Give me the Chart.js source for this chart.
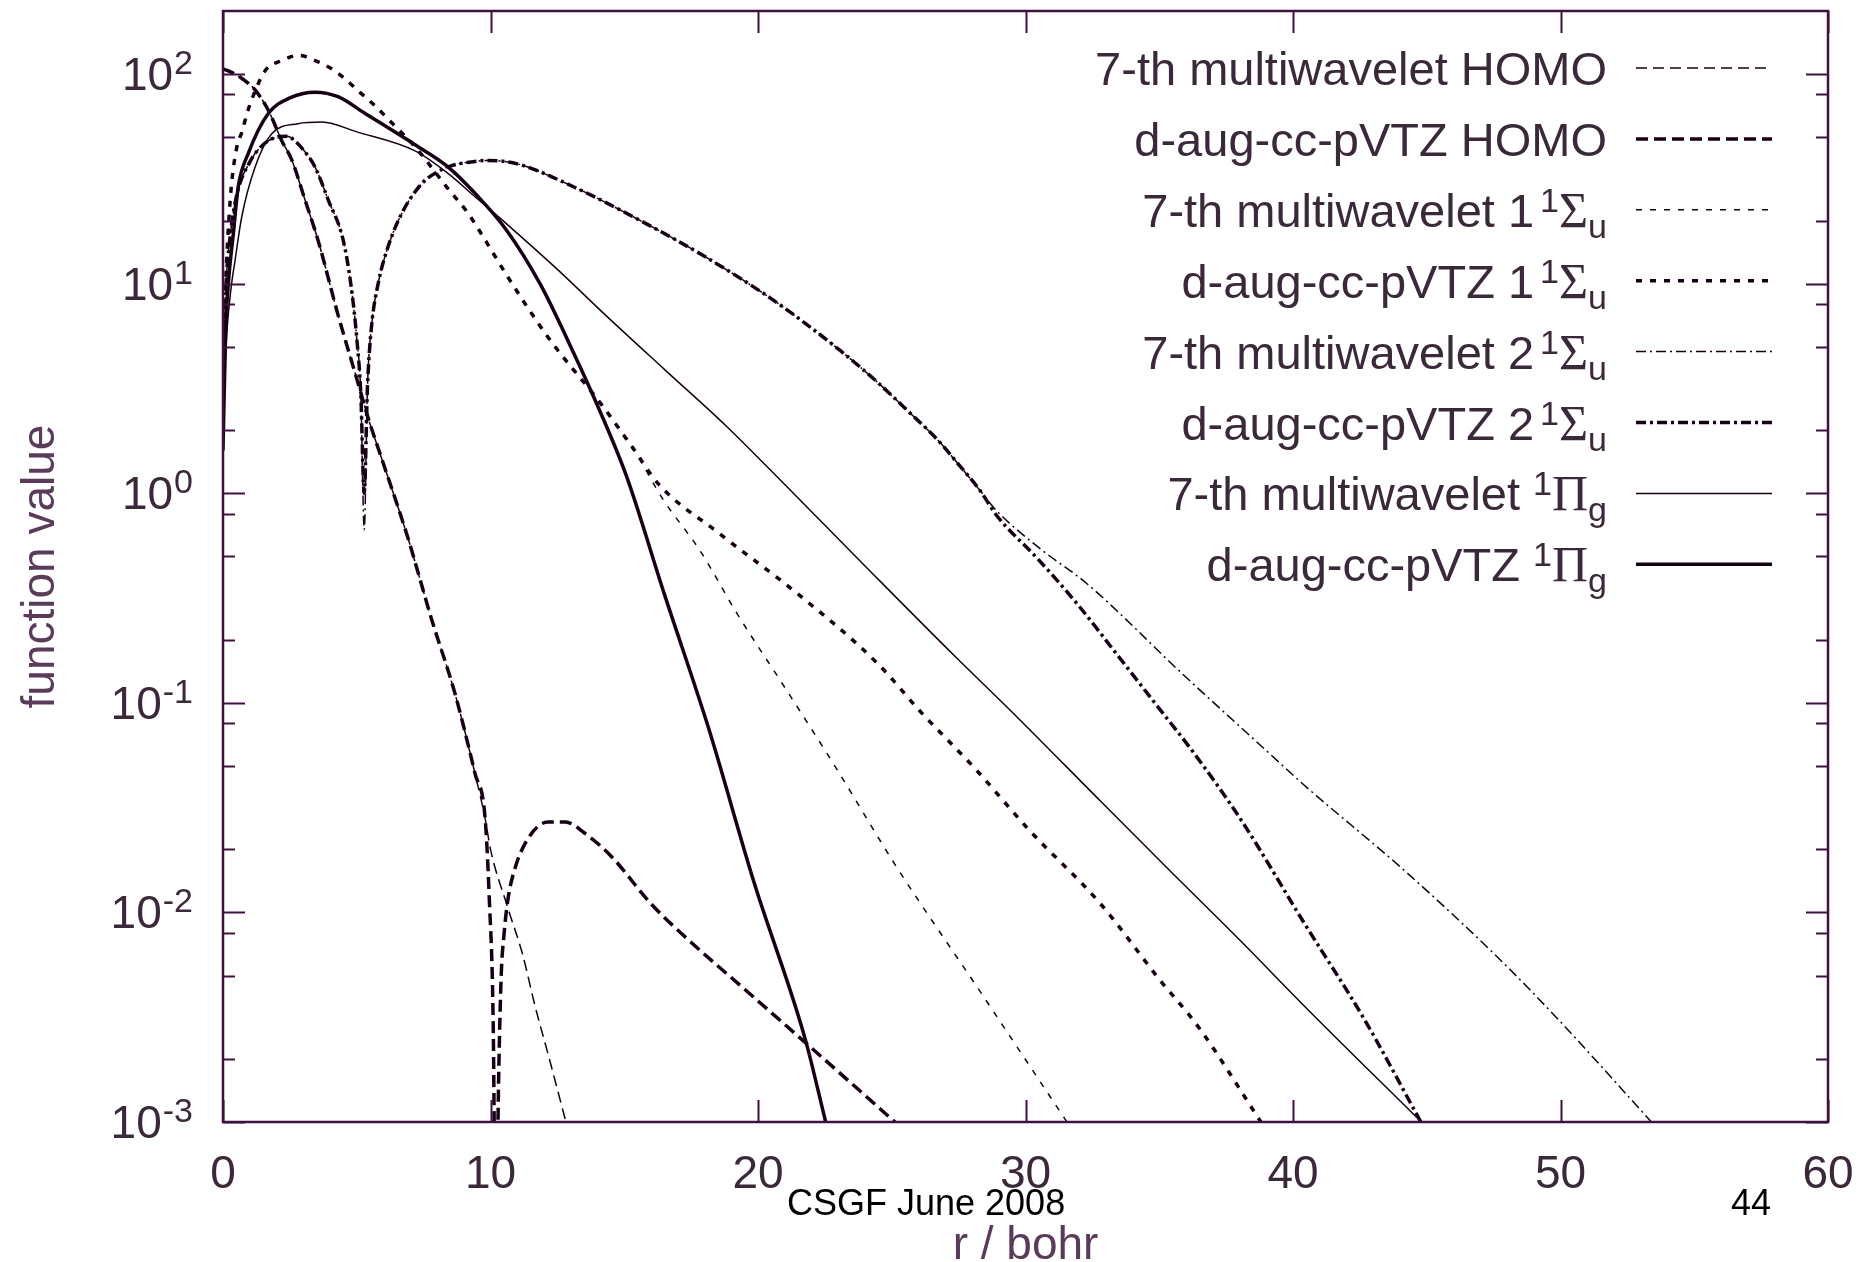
<!DOCTYPE html>
<html>
<head>
<meta charset="utf-8">
<script src="https://cdn.jsdelivr.net/npm/chart.js@4.4.1/dist/chart.umd.min.js"></script>
<style>
  html, body { margin: 0; padding: 0; background: #fff; overflow: hidden; }
</style>
</head>
<body>
<canvas id="plot" width="1861" height="1262"></canvas>
<script>
// axis ticks
const xTicks = [0, 10, 20, 30, 40, 50, 60];
const yDecades = [-3, -2, -1, 0, 1, 2];
const yMinor = [2, 5, 8];

// HOMO (shared part, then the two tails)
const homoCoreR = [0, 0.45, 0.96, 1.2, 1.7, 2.2, 2.57, 3.07, 3.56, 4.3, 5.05, 5.42, 6.0, 6.9, 7.8, 8.67, 9.42, 9.8];
const homoCoreV = [106, 100, 90, 84, 67, 48, 39, 25, 16, 7.1, 3.35, 2.3, 1.38, 0.62, 0.25, 0.111, 0.046, 0.028];
const homoMwR = [10.0, 10.65, 11.2, 11.66, 12.2, 12.82];
const homoMwV = [0.02, 0.0105, 0.0063, 0.0036, 0.002, 0.001];
const homoAugR = [9.95, 10.1, 10.2, 10.3, 10.4, 10.5, 10.65, 10.9, 11.4, 12.15, 12.8, 13.5, 14.5, 16.0, 17.2, 19.5, 21.76, 25.12];
const homoAugV = [0.012, 0.003, 0.0002, 0.0015, 0.005, 0.0077, 0.0115, 0.016, 0.0225, 0.027, 0.027, 0.024, 0.0186, 0.011, 0.0078, 0.0043, 0.0024, 0.001];

// 1 1Sigma_u
const s1CoreR = [0, 0.15, 0.3, 0.52, 0.71, 0.9, 1.15, 1.58, 2.2, 2.83, 3.45, 4.06, 4.56, 5.06, 5.56, 6.4, 7.18, 8.4, 9.17, 9.73, 10.6, 12.22, 14.1, 15.3];
const s1CoreV = [5, 14, 28, 45, 53, 65, 80, 104, 116, 123, 116, 106, 95, 83, 73, 57, 45, 28.5, 21.6, 16.7, 11, 5.4, 2.7, 1.66];
const s1MwR = [16.46, 17.8, 19.27, 20.9, 22.83, 25.19, 28.3, 31.55];
const s1MwV = [0.93, 0.54, 0.26, 0.124, 0.051, 0.0164, 0.0042, 0.001];
const s1AugR = [16.3, 18.5, 21.5, 24.45, 26.1, 28.15, 30.1, 32.8, 35.0, 36.5, 38.8];
const s1AugV = [1.1, 0.65, 0.33, 0.155, 0.09, 0.048, 0.025, 0.011, 0.0048, 0.0028, 0.001];

// 2 1Sigma_u
const s2CoreR = [0, 0.1, 0.25, 0.5, 1.0, 1.5, 2.0, 2.4, 2.69, 3.1, 3.44, 3.94, 4.5, 4.8, 5.0, 5.15];
const s2CoreV = [3, 9, 16, 26, 38, 46, 50, 50.5, 48, 42, 36, 25, 16, 9.5, 5.5, 3.0];
const s2NodeR = [5.28];
const s2MwNodeV = [0.67];
const s2AugNodeV = [1.0];
const s2MidR = [5.4, 5.55, 5.8, 6.17, 6.68, 7.43, 8.17, 8.55, 9.2, 9.9, 11.0, 13.1, 15.6, 18.0, 20.6, 23.07, 24.45, 25.56, 26.8, 27.4, 28.3];
const s2MidV = [3.2, 6.2, 10, 15, 21.6, 30, 35, 36.6, 38, 38.7, 37.3, 29, 20, 13.5, 8.3, 4.8, 3.4, 2.5, 1.75, 1.42, 1.03];
const s2MwR = [28.9, 30.5, 32.3, 35.85, 38.95, 40.37, 44.25, 47.77, 49.9, 53.4];
const s2MwV = [0.83, 0.55, 0.37, 0.138, 0.06, 0.041, 0.0155, 0.0059, 0.0031, 0.001];
const s2AugR = [28.9, 30.5, 31.9, 33.3, 34.83, 36.3, 38.07, 40.37, 42.66, 44.78];
const s2AugV = [0.79, 0.48, 0.30, 0.178, 0.1, 0.0575, 0.0275, 0.0091, 0.0031, 0.001];

// 1Pi_g
const pgMwR = [0, 0.15, 0.3, 0.45, 0.7, 1.2, 1.83, 2.8, 3.7, 5.0, 7.18, 8.42, 9.42, 10.6, 12.5, 14.34, 16.5, 18.8, 21.0, 24.0, 27.4, 29.4, 32.8, 35.4, 38.0, 40.4, 44.8];
const pgMwV = [2.5, 6, 9.5, 12.9, 20.8, 36, 52, 58, 59, 53, 43, 33.5, 26, 19.3, 11.7, 7.0, 3.9, 2.1, 1.1, 0.45, 0.165, 0.093, 0.034, 0.0158, 0.0074, 0.0036, 0.001];
const pgAugR = [0, 0.1, 0.2, 0.39, 0.57, 0.95, 1.7, 2.5, 3.44, 4.3, 5.3, 7.18, 8.42, 9.42, 10.6, 11.85, 13.1, 14.1, 15.09, 16.5, 18.14, 19.86, 21.76, 22.53];
const pgAugV = [1.6, 6, 10, 17.5, 29, 42, 65, 77, 82, 78, 65, 46, 36, 27, 18, 10, 4.7, 2.45, 1.2, 0.33, 0.0766, 0.0138, 0.0025, 0.001];

const seriesNames = [
    "7-th multiwavelet HOMO",
    "d-aug-cc-pVTZ HOMO",
    "7-th multiwavelet 1 1Σu",
    "d-aug-cc-pVTZ 1 1Σu",
    "7-th multiwavelet 2 1Σu",
    "d-aug-cc-pVTZ 2 1Σu",
    "7-th multiwavelet 1Πg",
    "d-aug-cc-pVTZ 1Πg",
];

const LINE = "#160014";
const FRAME = "#3f1140";
const TEXT = "#3a2a39";
const TITLE = "#5b3b5a";
const SANS = '"Liberation Sans", Arial, sans-serif';
const SERIF = '"Liberation Serif", "Times New Roman", serif';

function pts(rs, vs) {
    return rs.map((r, i) => ({ x: r, y: vs[i] }));
}

function series(i, data, width, dash) {
    return {
        label: seriesNames[i],
        data: data,
        borderColor: LINE,
        borderWidth: width,
        borderDash: dash,
        borderCapStyle: "butt",
        pointRadius: 0,
        fill: false,
        cubicInterpolationMode: "monotone",
    };
}

const datasets = [
    series(0, pts(homoCoreR.concat(homoMwR), homoCoreV.concat(homoMwV)), 1.5, [11, 6]),
    series(1, pts(homoCoreR.concat(homoAugR), homoCoreV.concat(homoAugV)), 3.5, [12, 6]),
    series(2, pts(s1CoreR.concat(s1MwR), s1CoreV.concat(s1MwV)), 1.5, [6, 8]),
    series(3, pts(s1CoreR.concat(s1AugR), s1CoreV.concat(s1AugV)), 3.5, [6, 8]),
    series(4, pts(s2CoreR.concat(s2NodeR, s2MidR, s2MwR), s2CoreV.concat(s2MwNodeV, s2MidV, s2MwV)), 1.5, [10, 4, 2, 4]),
    series(5, pts(s2CoreR.concat(s2NodeR, s2MidR, s2AugR), s2CoreV.concat(s2AugNodeV, s2MidV, s2AugV)), 3.5, [10, 4, 3, 4]),
    series(6, pts(pgMwR, pgMwV), 1.5, []),
    series(7, pts(pgAugR, pgAugV), 3.5, []),
];

// rich legend labels: [text, font, dy, dx]
const fMain = "47px " + SANS;
const fSmall = "34px " + SANS;
const fGreek = "50px " + SERIF;
const legendParts = [
    [["7-th multiwavelet HOMO", fMain]],
    [["d-aug-cc-pVTZ HOMO", fMain]],
    [["7-th multiwavelet 1", fMain], ["1", fSmall, -15, 6], ["Σ", fGreek], ["u", fSmall, 11]],
    [["d-aug-cc-pVTZ 1", fMain], ["1", fSmall, -15, 6], ["Σ", fGreek], ["u", fSmall, 11]],
    [["7-th multiwavelet 2", fMain], ["1", fSmall, -15, 6], ["Σ", fGreek], ["u", fSmall, 11]],
    [["d-aug-cc-pVTZ 2", fMain], ["1", fSmall, -15, 6], ["Σ", fGreek], ["u", fSmall, 11]],
    [["7-th multiwavelet ", fMain], ["1", fSmall, -15], ["Π", fGreek], ["g", fSmall, 11]],
    [["d-aug-cc-pVTZ ", fMain], ["1", fSmall, -15], ["Π", fGreek], ["g", fSmall, 11]],
];

function drawRich(ctx, parts, x, y, align) {
    let w = 0;
    parts.forEach((p) => {
        ctx.font = p[1];
        w += ctx.measureText(p[0]).width + (p[3] || 0);
    });
    let cx = align === "right" ? x - w : align === "center" ? x - w / 2 : x;
    parts.forEach((p) => {
        ctx.font = p[1];
        cx += p[3] || 0;
        ctx.fillText(p[0], cx, y + (p[2] || 0));
        cx += ctx.measureText(p[0]).width;
    });
}

const gnuplotFrame = {
    id: "gnuplotFrame",
    afterDraw(chart) {
        const { ctx, chartArea: a, scales } = chart;
        const xs = scales.x;
        const ys = scales.y;
        ctx.save();

        // border
        ctx.strokeStyle = FRAME;
        ctx.lineWidth = 2.5;
        ctx.strokeRect(a.left, a.top, a.right - a.left, a.bottom - a.top);

        // inward ticks on all four sides
        ctx.lineWidth = 2;
        ctx.beginPath();
        xTicks.forEach((v) => {
            const px = Math.round(xs.getPixelForValue(v)) + 0.5;
            ctx.moveTo(px, a.bottom); ctx.lineTo(px, a.bottom - 22);
            ctx.moveTo(px, a.top); ctx.lineTo(px, a.top + 22);
        });
        yDecades.forEach((d) => {
            const major = Math.pow(10, d);
            const py = Math.round(ys.getPixelForValue(major)) + 0.5;
            ctx.moveTo(a.left, py); ctx.lineTo(a.left + 22, py);
            ctx.moveTo(a.right, py); ctx.lineTo(a.right - 22, py);
            yMinor.forEach((m) => {
                const v = m * major;
                if (v >= ys.max) return;
                const qy = Math.round(ys.getPixelForValue(v)) + 0.5;
                ctx.moveTo(a.left, qy); ctx.lineTo(a.left + 12, qy);
                ctx.moveTo(a.right, qy); ctx.lineTo(a.right - 12, qy);
            });
        });
        ctx.stroke();

        // tick labels
        ctx.fillStyle = TEXT;
        ctx.textBaseline = "alphabetic";
        ctx.font = "46px " + SANS;
        ctx.textAlign = "center";
        xTicks.forEach((v) => {
            ctx.fillText(String(v), xs.getPixelForValue(v), a.bottom + 66);
        });
        ctx.textAlign = "left";
        yDecades.forEach((d) => {
            const py = ys.getPixelForValue(Math.pow(10, d));
            drawRich(ctx, [["10", "46px " + SANS, 16], [String(d), "34px " + SANS, 0, 1]], a.left - 30, py, "right");
        });

        // axis titles
        ctx.fillStyle = TITLE;
        ctx.font = "46px " + SANS;
        ctx.textAlign = "center";
        ctx.fillText("r / bohr", (a.left + a.right) / 2, 1259);
        ctx.save();
        ctx.translate(54, (a.top + a.bottom) / 2);
        ctx.rotate(-Math.PI / 2);
        ctx.fillText("function value", 0, 0);
        ctx.restore();

        // key
        ctx.textAlign = "left";
        chart.data.datasets.forEach((ds, i) => {
            const ry = 68 + i * 70.9;
            ctx.fillStyle = TEXT;
            drawRich(ctx, legendParts[i], 1607, ry + 17, "right");
            ctx.strokeStyle = ds.borderColor;
            ctx.lineWidth = ds.borderWidth;
            ctx.setLineDash(ds.borderDash);
            ctx.beginPath();
            ctx.moveTo(1636, ry);
            ctx.lineTo(1772, ry);
            ctx.stroke();
            ctx.setLineDash([]);
        });

        // slide footer
        ctx.fillStyle = "#000";
        ctx.font = "36px " + SANS;
        ctx.fillText("CSGF June 2008", 787, 1215);
        ctx.fillText("44", 1731, 1215);

        ctx.restore();
    },
};

new Chart(document.getElementById("plot").getContext("2d"), {
    type: "line",
    data: { datasets: datasets },
    options: {
        responsive: false,
        animation: false,
        devicePixelRatio: 1,
        layout: { padding: { left: 223, right: 33, top: 11, bottom: 140 } },
        plugins: { legend: { display: false }, tooltip: { enabled: false } },
        scales: {
            x: { type: "linear", min: 0, max: 60, display: false },
            y: { type: "logarithmic", min: 0.001, max: 200, display: false },
        },
    },
    plugins: [gnuplotFrame],
});
</script>
</body>
</html>
